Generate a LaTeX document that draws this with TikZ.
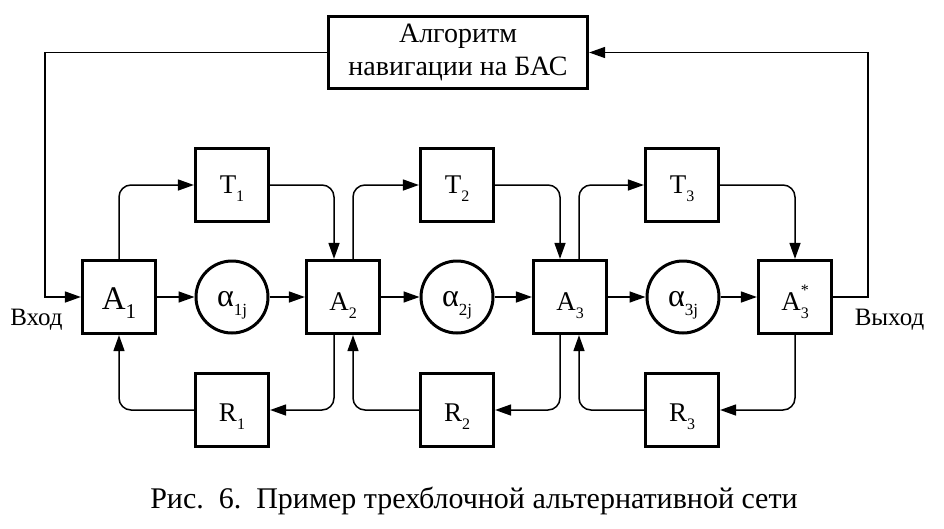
\documentclass[tikz,border=0pt]{standalone}
\usepackage{fontspec}
\setmainfont{Liberation Serif}
\usetikzlibrary{arrows.meta}
\newcommand\mysub[2][16]{\raisebox{-0.3em}{\fontsize{#1}{#1}\selectfont #2}}
\begin{document}
\begin{tikzpicture}[x=1pt,y=-1pt,
  blk/.style={draw, line width=3.2pt, minimum width=73pt, minimum height=73pt, inner sep=0pt, text depth=0pt, font=\fontsize{27}{28}\selectfont},
  circ/.style={draw, circle, line width=3pt, minimum size=72pt, inner sep=0pt, text height=18pt, text depth=0pt, font=\fontsize{32}{33}\selectfont},
  conn/.style={line width=1.5pt, rounded corners=12pt},
  arr/.style={conn, -{Triangle[length=16pt,width=11pt]}},
  lbl/.style={font=\fontsize{25}{26}\selectfont, anchor=base, inner sep=0pt}]
\useasboundingbox (0,0) rectangle (944,528);
% top box
\node[draw, line width=3.2pt, minimum width=259pt, minimum height=72pt, inner sep=0pt, align=center,
  font=\fontsize{28}{33}\selectfont] (top) at (458,52.5) {Алгоритм\\навигации на БАС};
% T row
\node[blk, text height=16pt] (T1) at (232,185) {T\mysub{1}};
\node[blk, text height=16pt] (T2) at (457,185) {T\mysub{2}};
\node[blk, text height=16pt] (T3) at (682,185) {T\mysub{3}};
% A row
\node[blk, text height=24pt, font=\fontsize{33}{34}\selectfont] (A1) at (119,297) {A\mysub[21]{1}};
\node[blk, text height=26pt] (A2) at (343,297) {A\mysub{2}};
\node[blk, text height=26pt] (A3) at (570,297) {A\mysub{3}};
\node[blk, text height=26pt] (A4) at (795,297) {A\rlap{\raisebox{0.55em}{\fontsize{16}{16}\selectfont *}}\mysub{3}};
% circles
\node[circ] (c1) at (232,297) {α\mysub[17]{1j}};
\node[circ] (c2) at (457,297) {α\mysub[17]{2j}};
\node[circ] (c3) at (683,297) {α\mysub[17]{3j}};
% R row
\node[blk, text height=22pt] (R1) at (232,410) {R\mysub{1}};
\node[blk, text height=22pt] (R2) at (457,410) {R\mysub{2}};
\node[blk, text height=22pt] (R3) at (682,410) {R\mysub{3}};
% horizontal chain
\draw[arr] (A1) -- (c1);
\draw[arr] (c1) -- (A2);
\draw[arr] (A2) -- (c2);
\draw[arr] (c2) -- (A3);
\draw[arr] (A3) -- (c3);
\draw[arr] (c3) -- (A4);
% upper branches
\draw[arr] (A1.north) |- (T1.west);
\draw[arr] (T1.east) -| ([xshift=-9pt]A2.north);
\draw[arr] ([xshift=10pt]A2.north) |- (T2.west);
\draw[arr] (T2.east) -| ([xshift=-10pt]A3.north);
\draw[arr] ([xshift=9pt]A3.north) |- (T3.west);
\draw[arr] (T3.east) -| (A4.north);
% lower branches
\draw[arr] ([xshift=-9pt]A2.south) |- (R1.east);
\draw[arr] (R1.west) -| (A1.south);
\draw[arr] ([xshift=-10pt]A3.south) |- (R2.east);
\draw[arr] (R2.west) -| ([xshift=10pt]A2.south);
\draw[arr] (A4.south) |- (R3.east);
\draw[arr] (R3.west) -| ([xshift=9pt]A3.south);
% feedback
\draw[arr, rounded corners=0pt] (top.west) -| ([xshift=-36pt]A1.west) -- (A1.west);
\draw[arr, rounded corners=0pt] (A4.east) -- ([xshift=35pt]A4.east) |- (top.east);
% labels
\node[lbl] (in) at (36.5,325) {Вход};
\node[lbl] (out) at (889.5,325) {Выход};
\node[lbl, font=\fontsize{30}{32}\selectfont] (cap) at (474,508) {Рис.\ \ 6.\ \ Пример трехблочной альтернативной сети};
\end{tikzpicture}
\end{document}
